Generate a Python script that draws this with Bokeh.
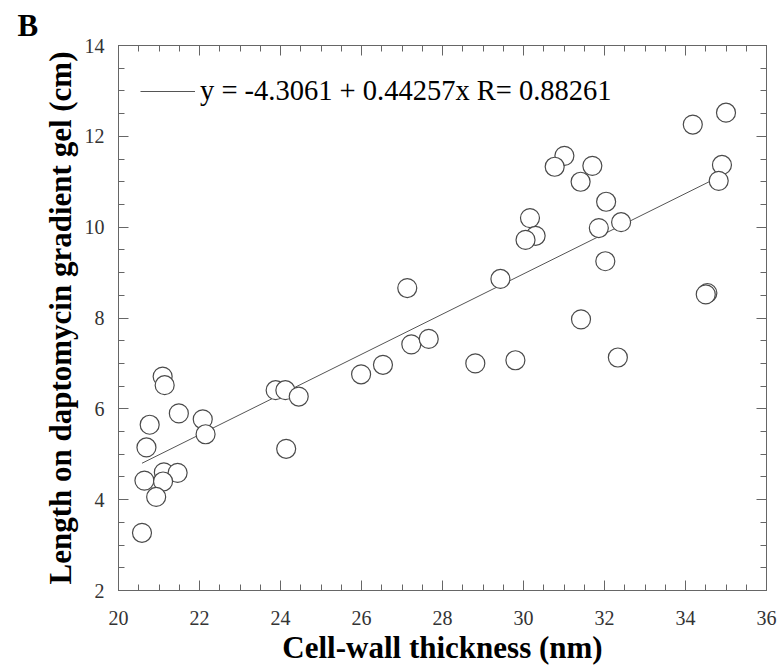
from bokeh.plotting import figure
from bokeh.models import (LinearAxis, SingleIntervalTicker, FixedTicker, Range1d,
                          Legend, LegendItem)
from bokeh.embed import file_html
from bokeh.resources import INLINE

# ---- data ----
cell_wall_nm = [21.09, 21.14, 21.49, 20.77, 22.08, 22.15, 20.69, 21.12, 21.46,
                20.64, 21.10, 20.93, 20.58, 23.88, 24.12, 24.45, 24.14, 27.13,
                29.43, 27.23, 27.66, 26.53, 25.99, 28.81, 29.80, 30.16, 30.30,
                30.05, 31.01, 30.77, 31.70, 31.41, 32.04, 31.86, 32.41, 34.18,
                35.00, 34.90, 34.82, 32.02, 34.54, 34.50, 31.42, 32.33]
length_cm = [6.71, 6.52, 5.90, 5.65, 5.77, 5.44, 5.15, 4.60, 4.59, 4.42, 4.40,
             4.06, 3.27, 6.41, 6.41, 6.27, 5.12, 8.66, 8.86, 7.42, 7.54, 6.97,
             6.76, 7.00, 7.07, 10.20, 9.81, 9.72, 11.57, 11.33, 11.35, 11.00,
             10.56, 9.98, 10.11, 12.26, 12.52, 11.37, 11.02, 9.25, 8.55, 8.52,
             7.97, 7.13]
INTERCEPT = -4.3061
SLOPE = 0.44257
R_VALUE = 0.88261
fit_label = f"y = {INTERCEPT} + {SLOPE}x R= {R_VALUE}"

x_major = [20, 22, 24, 26, 28, 30, 32, 34, 36]
x_minor = [20 + 0.5 * i for i in range(33) if i % 4 != 0]
y_major = [2, 4, 6, 8, 10, 12, 14]
y_minor = [2 + 0.5 * i for i in range(25) if i % 4 != 0]

x_fit = [min(cell_wall_nm), max(cell_wall_nm)]
y_fit = [INTERCEPT + SLOPE * v for v in x_fit]

FONT = "Liberation Serif"
AX = "#666666"

p = figure(width=781, height=667, x_range=Range1d(20, 36), y_range=Range1d(2, 14),
           output_backend="svg", toolbar_location=None,
           min_border_left=118, min_border_right=15, min_border_top=45,
           min_border_bottom=75, x_axis_location=None, y_axis_location=None)
p.grid.visible = False
p.outline_line_color = AX
p.background_fill_color = "white"
p.border_fill_color = "white"

# "B" panel letter as the title
p.title.text = "B"
p.title.align = "left"
p.title.offset = -101
p.title.standoff = 5
p.title.text_font = FONT
p.title.text_font_size = "31px"
p.title.text_font_style = "bold"
p.title.text_color = "black"


def make_axis(side):
    ax = LinearAxis(ticker=SingleIntervalTicker(interval=2, num_minor_ticks=4))
    ax.axis_line_color = AX
    ax.major_tick_line_color = AX
    ax.minor_tick_line_color = AX
    ax.major_tick_in = 10
    ax.major_tick_out = 0
    ax.minor_tick_in = 6
    ax.minor_tick_out = 0
    ax.major_label_text_font = FONT
    ax.major_label_text_font_size = "20px"
    ax.major_label_text_color = "#333333"
    ax.axis_label_text_font = FONT
    ax.axis_label_text_font_size = "31px"
    ax.axis_label_text_font_style = "bold"
    ax.axis_label_text_color = "black"
    p.add_layout(ax, side)
    return ax


def tick_only_axis(side, positions, length):
    # an axis with only "minor" ticks: draws tick marks but no labels
    ax = LinearAxis(ticker=FixedTicker(ticks=[], minor_ticks=positions))
    ax.axis_line_color = AX
    ax.minor_tick_line_color = AX
    ax.minor_tick_in = length
    ax.minor_tick_out = 0
    ax.major_tick_in = 0
    ax.major_tick_out = 0
    p.add_layout(ax, side)
    return ax


xb = make_axis("below")
xb.axis_label = "Cell-wall thickness (nm)"
xb.major_label_standoff = 20
xb.axis_label_standoff = 2
yl = make_axis("left")
yl.axis_label = "Length on daptomycin gradient gel (cm)"
yl.major_label_standoff = 14
yl.axis_label_standoff = 4

tick_only_axis("above", x_major, 10)
tick_only_axis("above", x_minor, 6)
tick_only_axis("right", y_major, 10)
tick_only_axis("right", y_minor, 6)

fit_r = p.line(x_fit, y_fit, line_color="#555555", line_width=1)
p.scatter(cell_wall_nm, length_cm, marker="circle", size=19,
          fill_color="white", line_color="#4a4a4a", line_width=1.2)

legend = Legend(items=[LegendItem(label=fit_label, renderers=[fit_r])],
                location=(22, 483), glyph_width=55, glyph_height=20,
                label_standoff=5, padding=0, margin=0, border_line_color=None,
                background_fill_alpha=0, label_text_font=FONT,
                label_text_font_size="28.5px", label_text_color="black")
p.add_layout(legend)

open("out.html", "w").write(file_html(p, INLINE))
